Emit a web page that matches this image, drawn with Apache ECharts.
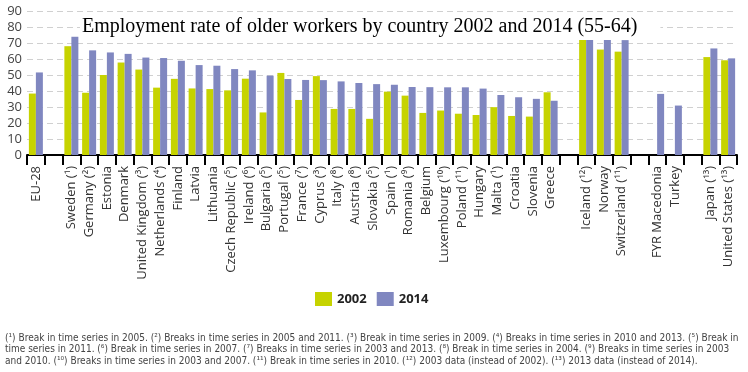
<!DOCTYPE html>
<html>
<head>
<meta charset="utf-8">
<script src="https://cdn.jsdelivr.net/npm/echarts@6/dist/echarts.min.js"></script>
<style>html,body{margin:0;padding:0;background:#fff}#c{width:748px;height:372px}</style>
</head>
<body>
<div id="c"></div>
<script>
var titleText = 'Employment rate of older workers by country 2002 and 2014 (55-64)';
var categories = ['EU-28', ' ', 'Sweden (¹)', 'Germany (²)', 'Estonia', 'Denmark', 'United Kingdom (³)', 'Netherlands (⁴)', 'Finland', 'Latvia', 'Lithuania', 'Czech Republic (⁵)', 'Ireland (⁶)', 'Bulgaria (⁵)', 'Portugal (⁵)', 'France (⁷)', 'Cyprus (³)', 'Italy (⁸)', 'Austria (⁸)', 'Slovakia (⁵)', 'Spain (¹)', 'Romania (⁹)', 'Belgium', 'Luxembourg (¹⁰)', 'Poland (¹¹)', 'Hungary', 'Malta (¹)', 'Croatia', 'Slovenia', 'Greece', '  ', 'Iceland (¹²)', 'Norway', 'Switzerland (¹¹)', '   ', 'FYR Macedonia', 'Turkey', '    ', 'Japan (¹³)', 'United States (¹³)'];
var values2002 = [38.4, null, 68.0, 38.9, 50.0, 57.8, 53.4, 42.1, 47.6, 41.6, 41.2, 40.4, 47.7, 26.6, 51.3, 34.4, 49.3, 28.8, 28.8, 22.6, 39.6, 37.1, 26.3, 27.8, 25.8, 25.0, 29.9, 24.4, 24.0, 39.2, null, 83.0, 65.9, 64.6, null, null, null, null, 61.2, 59.2];
var values2014 = [51.6, null, 73.9, 65.4, 64.1, 63.2, 60.9, 60.6, 58.9, 56.2, 55.8, 53.7, 52.9, 49.6, 47.5, 46.9, 46.8, 46.0, 45.0, 44.3, 43.9, 42.5, 42.4, 42.3, 42.3, 41.5, 37.5, 36.1, 35.1, 33.9, null, 84.0, 72.2, 71.8, null, 38.2, 30.9, null, 66.6, 60.4];
var seriesNames = ['2002', '2014'];
var footnotes = [
  '(¹) Break in time series in 2005. (²) Breaks in time series in 2005 and 2011. (³) Break in time series in 2009. (⁴) Breaks in time series in 2010 and 2013. (⁵) Break in',
  'time series in 2011. (⁶) Break in time series in 2007. (⁷) Breaks in time series in 2003 and 2013. (⁸) Break in time series in 2004. (⁹) Breaks in time series in 2003',
  'and 2010. (¹⁰) Breaks in time series in 2003 and 2007. (¹¹) Break in time series in 2010. (¹²) 2003 data (instead of 2002). (¹³) 2013 data (instead of 2014).'
];

var chart = echarts.init(document.getElementById('c'), null, {renderer: 'canvas'});
var footFont = '"Liberation Sans Narrow","DejaVu Sans Condensed","Roboto",sans-serif';
chart.setOption({
  animation: false,
  backgroundColor: '#fff',
  title: {
    text: titleText,
    left: 80, top: 14,
    padding: [3, 23, 3, 2],
    backgroundColor: '#fff',
    z: 20,
    textStyle: {fontFamily: '"Liberation Serif","DejaVu Serif",serif', fontSize: 20, fontWeight: 'normal', color: '#000', lineHeight: 20}
  },
  legend: {
    data: seriesNames,
    left: 310, top: 287,
    itemWidth: 17, itemHeight: 14, itemGap: 10,
    icon: 'rect',
    textStyle: {fontFamily: '"Open Sans","Noto Sans",sans-serif', fontSize: 13, fontWeight: 'bold', color: '#222'}
  },
  grid: {left: 27, right: 11, top: 11, bottom: 217, containLabel: false},
  xAxis: {
    type: 'category',
    data: categories,
    axisLine: {lineStyle: {color: '#000', width: 2}},
    axisTick: {show: true, length: 10, lineStyle: {color: '#000', width: 2}, interval: 0},
    axisLabel: {interval: 0, rotate: 90, margin: 11, fontFamily: '"Open Sans","Noto Sans",sans-serif', fontSize: 13, color: '#333'}
  },
  yAxis: {
    type: 'value', min: 0, max: 90, interval: 10,
    axisLine: {show: false}, axisTick: {show: false},
    axisLabel: {margin: 5, fontFamily: '"Open Sans","Noto Sans",sans-serif', fontSize: 13, color: '#444'},
    splitLine: {lineStyle: {color: '#d0d0d0', type: [6, 4], width: 1}}
  },
  series: [
    {name: seriesNames[0], type: 'bar', data: values2002, barWidth: 7, barGap: '0%', itemStyle: {color: '#c6d300'}},
    {name: seriesNames[1], type: 'bar', data: values2014, barWidth: 7, barGap: '0%', itemStyle: {color: '#8087c0'}}
  ],
  graphic: footnotes.map(function (t, i) {
    return {type: 'text', left: 5, top: 333 + i * 11.7, style: {text: t, font: '10px ' + footFont, fill: '#444'}};
  })
});
</script>
</body>
</html>
